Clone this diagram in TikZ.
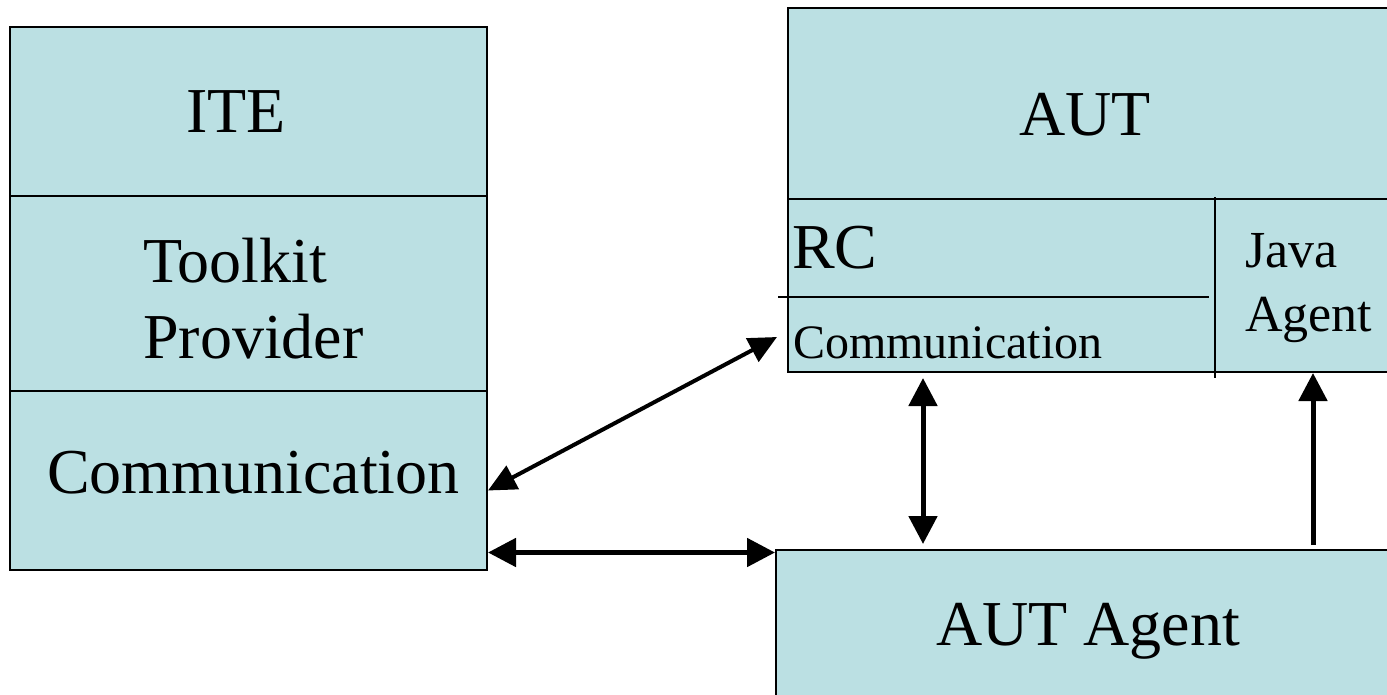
\documentclass[tikz,border=0pt]{standalone}
\usepackage{fontspec}
\setmainfont{Liberation Serif}
\usetikzlibrary{arrows.meta,positioning}
\definecolor{boxfill}{HTML}{BBE0E3}

\tikzset{
  box/.style={draw, line width=2pt, fill=boxfill, rectangle, inner sep=0pt},
  big/.style={font=\fontsize{64}{76}\selectfont, inner sep=0pt},
  mid/.style={font=\fontsize{52}{64}\selectfont, inner sep=0pt},
  small/.style={font=\fontsize{48}{58}\selectfont, inner sep=0pt},
  link/.style={line width=5pt, {Triangle[length=28pt,width=28pt]}-{Triangle[length=28pt,width=28pt]}},
  uplink/.style={line width=5pt, -{Triangle[length=28pt,width=28pt]}},
  diag/.style={line width=4pt, {Triangle[length=28pt,width=26pt]}-{Triangle[length=28pt,width=26pt]}}
}

\begin{document}
\begin{tikzpicture}[x=1pt, y=-1pt]
\useasboundingbox (0,0) rectangle (1387,694);

% ITE side
\node[box, minimum width=477pt, minimum height=169pt] (ite) at (248.5,111.5) {};
\node[box, minimum width=477pt, minimum height=195pt] (toolkit) at (248.5,293.5) {};
\node[box, minimum width=477pt, minimum height=179pt] (itecomm) at (248.5,480.5) {};

\node[big, anchor=base] (iteLabel) at (236,132) {ITE};
\node[big, anchor=north west, align=left] (toolkitLabel) at (143,238) {Toolkit\\Provider};
\node[big, anchor=base west] (itecommLabel) at (47,493) {Communication};

% AUT
\node[box, minimum width=612pt, minimum height=364pt] (aut) at (1094,190) {};
\draw[line width=2pt] (aut.west |- 0,199) -- (aut.east |- 0,199);
\draw[line width=1.5pt] (1215,197) -- (1215,378);
\draw[line width=1.5pt] (778,297) -- (1209,297);

\node[big, anchor=base] (autLabel) at (1085,135) {AUT};
\node[big, anchor=base west] (rcLabel) at (792,268) {RC};
\node[small, anchor=base west] (rccommLabel) at (793,358) {Communication};
\node[mid, anchor=north west, align=left] (javaLabel) at (1245,233) {Java\\Agent};

% AUT Agent
\node[box, minimum width=624pt, minimum height=160pt] (agent) at (1088,630) {};
\node[big, anchor=base] (agentLabel) at (1088,645) {AUT Agent};

% Arrows
\draw[diag] ([yshift=-10pt]itecomm.east) -- ([xshift=-10pt, yshift=-147pt]aut.west);
\draw[link] ([yshift=-72pt]itecomm.east) -- ([yshift=-72pt]itecomm.east -| agent.west);
\draw[link, shorten <=5pt, shorten >=5pt] (aut.south -| 923,0) -- (agent.north -| 923,0);
\draw[uplink] ([yshift=4pt]agent.north -| 1313,0) -- (aut.south -| 1313,0);
\end{tikzpicture}
\end{document}
